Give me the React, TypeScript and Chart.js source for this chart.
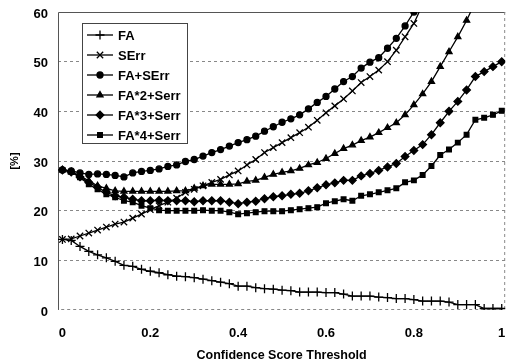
import React, { useEffect, useRef } from "react";
import { Chart, registerables } from "chart.js";
import { drawPoint } from "chart.js/helpers";

Chart.register(...registerables);

const thresholds = [
  0, 0.02, 0.04, 0.06, 0.08, 0.1, 0.12, 0.14, 0.16, 0.18,
  0.2, 0.22, 0.24, 0.26, 0.28, 0.3, 0.32, 0.34, 0.36, 0.38,
  0.4, 0.42, 0.44, 0.46, 0.48, 0.5, 0.52, 0.54, 0.56, 0.58,
  0.6, 0.62, 0.64, 0.66, 0.68, 0.7, 0.72, 0.74, 0.76, 0.78,
  0.8, 0.82, 0.84, 0.86, 0.88, 0.9, 0.92, 0.94, 0.96, 0.98, 1,
];

const xTickValues = [0, 0.2, 0.4, 0.6, 0.8, 1];
const xTickLabels = ["0", "0.2", "0.4", "0.6", "0.8", "1"];
const yTickValues = [0, 10, 20, 30, 40, 50, 60];

const seriesNames = ["FA", "SErr", "FA+SErr", "FA*2+Serr", "FA*3+Serr", "FA*4+Serr"];

const fa = [
  14.2, 14.0, 12.8, 11.8, 11.1, 10.5, 9.8, 9.0, 8.8, 8.2,
  7.8, 7.5, 7.1, 6.8, 6.7, 6.5, 6.2, 5.9, 5.6, 5.3,
  4.8, 4.8, 4.5, 4.3, 4.2, 4.0, 3.9, 3.6, 3.6, 3.6,
  3.5, 3.5, 3.2, 2.8, 2.8, 2.8, 2.6, 2.5, 2.3, 2.3,
  2.1, 1.8, 1.8, 1.8, 1.6, 1.1, 1.1, 1.1, 0.3, 0.3, 0.3,
];

const serr = [
  14.2, 14.3, 14.9, 15.5, 16.1, 16.7, 17.3, 17.7, 18.5, 19.3,
  20.2, 21.0, 21.7, 22.5, 23.7, 24.3, 25.0, 25.7, 26.3, 27.2,
  28.0, 29.2, 30.3, 31.7, 32.7, 33.7, 34.7, 35.7, 36.8, 38.2,
  39.7, 41.1, 42.5, 44.1, 45.8, 47.0, 48.3, 50.0, 52.3, 55.0,
  57.7, 61.5, null, null, null, null, null, null, null, null, null,
];

const faSerr = [
  28.2, 28.0, 27.6, 27.3, 27.4, 27.3, 27.1, 26.8, 27.6, 27.9,
  28.1, 28.4, 28.9, 29.2, 29.9, 30.3, 31.0, 31.7, 32.3, 33.0,
  33.7, 34.3, 35.0, 36.0, 36.9, 37.8, 38.5, 39.3, 40.5, 41.8,
  43.0, 44.5, 46.0, 47.0, 48.7, 49.9, 50.8, 52.7, 54.7, 57.2,
  60.0, 63.5, null, null, null, null, null, null, null, null, null,
];

const fa2Serr = [
  28.2, 27.8, 27.0, 26.0, 25.0, 24.5, 24.0, 23.9, 23.9, 23.9,
  23.9, 23.9, 23.9, 24.0, 24.0, 24.5, 25.0, 25.3, 25.3, 25.3,
  25.4, 25.9, 26.1, 26.7, 27.3, 27.7, 28.0, 28.5, 29.2, 29.7,
  30.5, 31.5, 32.5, 33.2, 34.1, 34.8, 35.7, 36.7, 37.7, 39.3,
  41.3, 43.5, 46.0, 49.0, 52.0, 55.0, 58.3, 62.0, null, null, null,
];

const fa3Serr = [
  28.2, 27.8, 26.8, 25.7, 24.7, 23.7, 23.0, 22.7, 22.3, 22.0,
  22.0, 22.1, 22.0, 22.0, 22.0, 21.8, 22.0, 22.0, 22.0, 21.7,
  21.4, 21.7, 21.9, 22.4, 22.8, 23.0, 23.3, 23.5, 24.0, 24.6,
  25.2, 25.6, 26.1, 26.1, 27.0, 27.5, 28.1, 28.8, 29.5, 30.9,
  32.1, 33.3, 35.3, 37.7, 40.0, 42.0, 44.3, 47.0, 48.0, 49.0, 50.0,
];

const fa4Serr = [
  28.2, 27.8, 26.7, 25.3, 24.3, 23.3, 22.7, 22.0, 21.7, 21.0,
  20.5, 20.1, 20.0, 20.0, 20.0, 20.0, 20.1, 20.0, 20.0, 19.7,
  19.3, 19.5, 19.7, 19.9, 19.9, 19.9, 20.1, 20.3, 20.5, 20.7,
  21.5, 21.9, 22.3, 22.0, 23.0, 23.3, 23.7, 24.1, 24.5, 25.7,
  26.1, 27.2, 29.0, 31.2, 32.3, 33.7, 35.3, 38.3, 38.7, 39.3, 40.1,
];

const seriesValues = [fa, serr, faSerr, fa2Serr, fa3Serr, fa4Serr];
const pointStyles = ["cross", "crossRot", "circle", "triangle", "rectRot", "rect"];
const pointRadii = [4.5, 4.5, 3, 3.5, 3.8, 3.3];

const FONT = "'Liberation Sans', Arial, sans-serif";

const frameAndLegend = {
  id: "frameAndLegend",
  beforeDatasetsDraw(chart: any) {
    const { ctx, chartArea } = chart;
    const { left, right, top, bottom } = chartArea;
    ctx.save();
    ctx.lineWidth = 1;
    ctx.strokeStyle = "#555";
    ctx.setLineDash([]);
    ctx.beginPath();
    ctx.moveTo(left + 0.5, bottom);
    ctx.lineTo(left + 0.5, top + 0.5);
    ctx.lineTo(right, top + 0.5);
    ctx.stroke();
    ctx.strokeStyle = "#888";
    ctx.setLineDash([3, 3]);
    ctx.beginPath();
    ctx.moveTo(right - 0.5, top);
    ctx.lineTo(right - 0.5, bottom - 0.5);
    ctx.lineTo(left, bottom - 0.5);
    ctx.stroke();
    ctx.restore();
  },
  afterDraw(chart: any) {
    const { ctx, chartArea } = chart;
    const bx = Math.round(chartArea.left + 24);
    const by = Math.round(chartArea.top + 11);
    const bw = 105;
    const bh = 120;
    ctx.save();
    ctx.setLineDash([]);
    ctx.fillStyle = "#fff";
    ctx.fillRect(bx, by, bw, bh);
    ctx.strokeStyle = "#444";
    ctx.lineWidth = 1;
    ctx.strokeRect(bx + 0.5, by + 0.5, bw, bh);
    chart.data.datasets.forEach((ds: any, i: number) => {
      const y = by + 12 + i * 20;
      ctx.strokeStyle = "#000";
      ctx.lineWidth = 1.3;
      ctx.beginPath();
      ctx.moveTo(bx + 5, y);
      ctx.lineTo(bx + 31, y);
      ctx.stroke();
      ctx.fillStyle = "#000";
      drawPoint(
        ctx,
        { pointStyle: ds.pointStyle, radius: ds.pointRadius, borderWidth: 1.3, rotation: 0 } as any,
        bx + 18,
        y
      );
      ctx.fillStyle = "#000";
      ctx.font = `bold 13px ${FONT}`;
      ctx.textBaseline = "middle";
      ctx.textAlign = "left";
      ctx.fillText(ds.label, bx + 36, y + 1);
    });
    ctx.restore();
  },
};

export default function App() {
  const canvasRef = useRef<HTMLCanvasElement | null>(null);

  useEffect(() => {
    if (!canvasRef.current) return;
    const datasets = seriesNames.map((name, i) => ({
      label: name,
      data: thresholds.map((t, j) => ({ x: t, y: seriesValues[i][j] })),
      borderColor: "#000",
      backgroundColor: "#000",
      borderWidth: 1.3,
      pointStyle: pointStyles[i],
      pointRadius: pointRadii[i],
      pointBorderWidth: 1.3,
      pointBorderColor: "#000",
      pointBackgroundColor: "#000",
      tension: 0,
      spanGaps: false,
    }));

    const chart = new Chart(canvasRef.current, {
      type: "line",
      data: { datasets } as any,
      plugins: [frameAndLegend],
      options: {
        animation: false,
        responsive: false,
        maintainAspectRatio: false,
        layout: { padding: { left: 0, right: 1, top: 12, bottom: 0 } },
        plugins: {
          legend: { display: false },
          tooltip: { enabled: false },
        },
        scales: {
          x: {
            type: "linear",
            min: -0.0101,
            max: 1.0079,
            grid: { display: false, drawTicks: false },
            border: { display: false },
            afterBuildTicks: (scale: any) => {
              scale.ticks = xTickValues.map((v) => ({ value: v }));
            },
            afterFit: (scale: any) => {
              scale.height = 53;
              scale.paddingLeft = 0;
              scale.paddingRight = 0;
            },
            ticks: {
              color: "#000",
              padding: 16,
              maxRotation: 0,
              autoSkip: false,
              font: { family: FONT, size: 13, weight: "bold" },
              callback: (v: any) => {
                const idx = xTickValues.indexOf(Number(v));
                return idx >= 0 ? xTickLabels[idx] : "";
              },
            },
            title: {
              display: true,
              text: "Confidence Score Threshold",
              color: "#000",
              padding: { top: 0, bottom: 0 },
              font: { family: FONT, size: 12.5, weight: "bold" },
            },
          },
          y: {
            min: 0,
            max: 60,
            afterBuildTicks: (scale: any) => {
              scale.ticks = yTickValues.map((v) => ({ value: v }));
            },
            afterFit: (scale: any) => {
              scale.width = 58;
              scale.paddingTop = 0;
              scale.paddingBottom = 0;
            },
            grid: {
              drawTicks: false,
              color: (c: any) => (c.tick && (c.tick.value === 0 || c.tick.value === 60) ? "rgba(0,0,0,0)" : "#888"),
              lineWidth: 1,
            },
            border: { display: false, dash: [3, 3] },
            ticks: {
              color: "#000",
              padding: 10,
              labelOffset: 2,
              font: { family: FONT, size: 13, weight: "bold" },
            },
            title: {
              display: true,
              text: "[%]",
              color: "#000",
              padding: { top: 8, bottom: 0 },
              font: { family: FONT, size: 11, weight: "bold" },
            },
          },
        },
      } as any,
    });
    return () => chart.destroy();
  }, []);

  return (
    <div style={{ position: "fixed", left: 0, top: 0, width: 511, height: 363, background: "#fff" }}>
      <canvas ref={canvasRef} width={511} height={363} style={{ width: 511, height: 363 }} />
    </div>
  );
}
